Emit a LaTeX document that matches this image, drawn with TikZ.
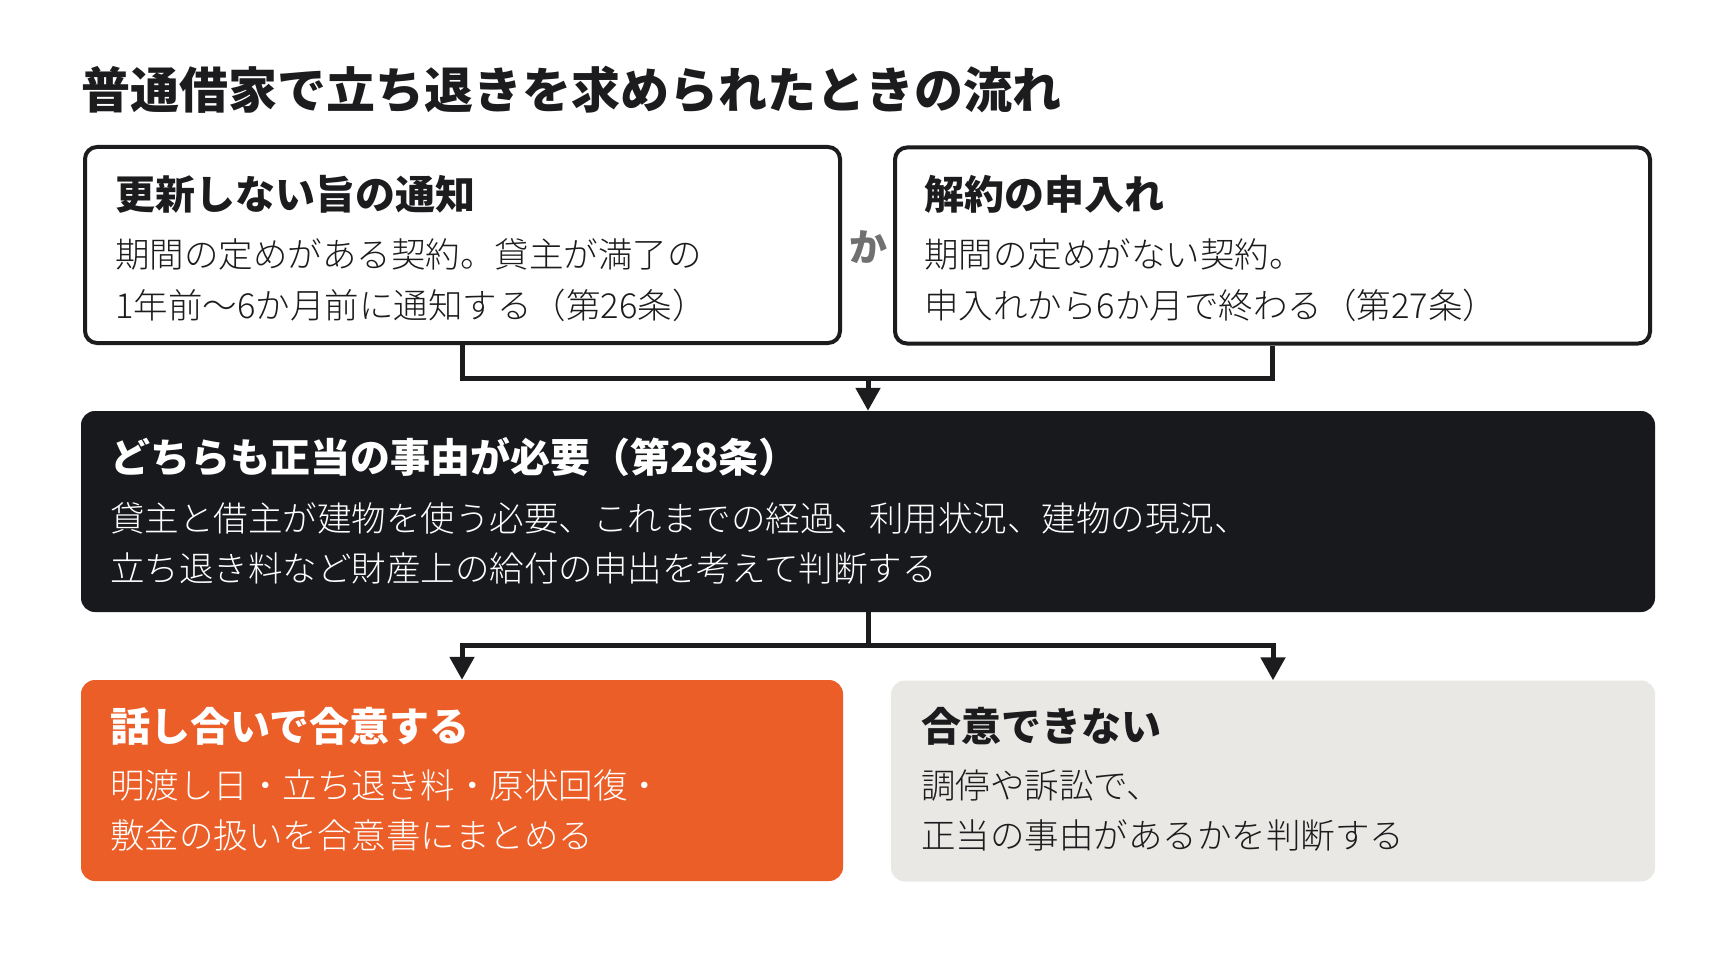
\documentclass[tikz,border=0pt]{standalone}
\usepackage{fontspec}
\usepackage{tikz}
\usetikzlibrary{arrows.meta}
\newfontfamily\jpfont{Noto Sans CJK JP}
\newfontfamily\jplight{Noto Sans CJK JP}[UprightFont=* Light]
\newfontfamily\jpheavy{Noto Sans CJK JP}[UprightFont=* Black]
\definecolor{ink}{HTML}{1C1C1E}
\definecolor{night}{HTML}{18191C}
\definecolor{flame}{HTML}{EB5E28}
\definecolor{stone}{HTML}{E9E8E5}
\definecolor{mute}{HTML}{707070}
\tikzset{
	framebox/.style={draw=ink, line width=4pt, fill=white, rounded corners=12pt, minimum width=755pt, minimum height=196pt, inner sep=0pt},
	fillbox/.style={rounded corners=14pt, minimum height=201pt, inner sep=0pt},
	title/.style={anchor=base west, inner sep=0pt, text=ink, font=\jpheavy\fontsize{49}{58}\selectfont},
	head/.style={anchor=base west, inner sep=0pt, font=\jpfont\bfseries\fontsize{40}{48}\selectfont},
	body/.style={anchor=base west, inner sep=0pt, font=\jplight\fontsize{34.5}{42}\selectfont},
	link/.style={draw=ink, line width=5pt},
	linkarrow/.style={link, -{Triangle[width=24pt,length=23pt]}}
}
\begin{document}
\begin{tikzpicture}[x=1pt,y=-1pt]
	\useasboundingbox[fill=white] (0,0) rectangle (1736,976);

	\node[title] (heading) at (81,109) {普通借家で立ち退きを求められたときの流れ};

	%boxes
	\node[framebox] (notice) at (462.5,245) {};
	\node[framebox] (offer) at (1272.5,245.5) {};
	\node[fillbox, fill=night, minimum width=1574pt] (reason) at (868,511.5) {};
	\node[fillbox, fill=flame, minimum width=762pt] (agree) at (462,780.5) {};
	\node[fillbox, fill=stone, minimum width=764pt] (court) at (1273,781) {};

	\node[inner sep=0pt, text=mute, font=\jpfont\bfseries\fontsize{38}{44}\selectfont] (either) at (868,247) {か};

	%texts
	\node[head, text=ink] (noticeh) at (115,210) {更新しない旨の通知};
	\node[body, text=ink] (notice1) at (115,268) {期間の定めがある契約。貸主が満了の};
	\node[body, text=ink] (notice2) at (115,318) {1年前〜6か月前に通知する（第26条）};

	\node[head, text=ink] (offerh) at (924,210) {解約の申入れ};
	\node[body, text=ink] (offer1) at (924,268) {期間の定めがない契約。};
	\node[body, text=ink] (offer2) at (924,318) {申入れから6か月で終わる（第27条）};

	\node[head, text=white] (reasonh) at (110,472) {どちらも正当の事由が必要（第28条）};
	\node[body, text=white] (reason1) at (110,531) {貸主と借主が建物を使う必要、これまでの経過、利用状況、建物の現況、};
	\node[body, text=white] (reason2) at (110,581) {立ち退き料など財産上の給付の申出を考えて判断する};

	\node[head, text=white] (agreeh) at (110,741) {話し合いで合意する};
	\node[body, text=white] (agree1) at (110,798) {明渡し日・立ち退き料・原状回復・};
	\node[body, text=white] (agree2) at (110,848) {敷金の扱いを合意書にまとめる};

	\node[head, text=ink] (courth) at (921,741) {合意できない};
	\node[body, text=ink] (court1) at (921,798) {調停や訴訟で、};
	\node[body, text=ink] (court2) at (921,848) {正当の事由があるかを判断する};

	%connectors
	\coordinate (merge) at (868,378);
	\coordinate (split) at (868,645);
	\draw[link] (notice.south) |- (merge) -| (offer.south);
	\draw[linkarrow] (merge) -- (reason.north);
	\draw[link] (reason.south) -- (split);
	\draw[linkarrow] (split) -| (agree.north);
	\draw[linkarrow] (split) -| (court.north);

\end{tikzpicture}
\end{document}
